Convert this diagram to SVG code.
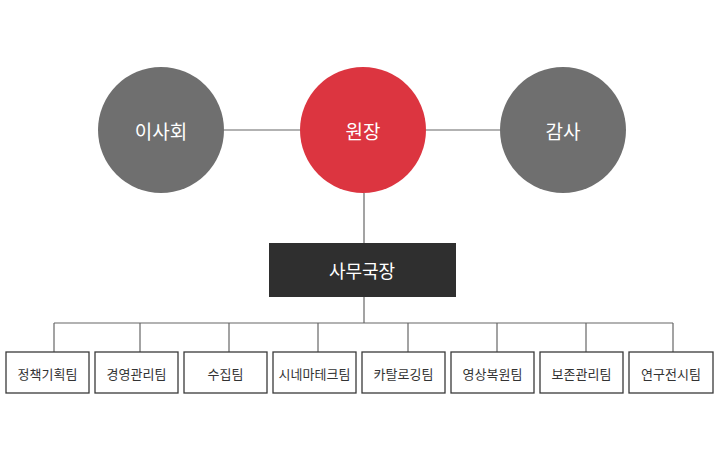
<svg xmlns="http://www.w3.org/2000/svg" width="720" height="462" viewBox="0 0 720 462">
<style>
  .ln{stroke:#666;stroke-width:1.2;fill:none}
  .gc{fill:#6f6f6f}
  .rc{fill:#dc3540}
  .ct{font-family:"Noto Sans CJK KR","Noto Sans",sans-serif;font-size:19px;fill:#fff;text-anchor:middle;dominant-baseline:central}
  .tb{fill:#fff;stroke:#3a3a3a;stroke-width:1.3}
  .tt{font-family:"Noto Sans CJK KR","Noto Sans",sans-serif;font-size:13px;fill:#333;text-anchor:middle;dominant-baseline:central}
</style>
<rect width="720" height="462" fill="#fff"/>
<g id="connectors">
  <line class="ln" x1="224" y1="130" x2="300" y2="130"/>
  <line class="ln" x1="426" y1="130" x2="500" y2="130"/>
  <line class="ln" x1="364" y1="193" x2="364" y2="243"/>
  <line class="ln" x1="364" y1="297" x2="364" y2="323"/>
  <line class="ln" x1="54" y1="323" x2="673" y2="323"/>
  <line class="ln" x1="54" y1="323" x2="54" y2="352"/>
  <line class="ln" x1="140" y1="323" x2="140" y2="352"/>
  <line class="ln" x1="229" y1="323" x2="229" y2="352"/>
  <line class="ln" x1="318" y1="323" x2="318" y2="352"/>
  <line class="ln" x1="408" y1="323" x2="408" y2="352"/>
  <line class="ln" x1="497" y1="323" x2="497" y2="352"/>
  <line class="ln" x1="586" y1="323" x2="586" y2="352"/>
  <line class="ln" x1="673" y1="323" x2="673" y2="352"/>
</g>
<g id="board"><circle class="gc" cx="161" cy="130" r="63"/><text class="ct" x="161" y="130">이사회</text></g>
<g id="director"><circle class="rc" cx="363" cy="130" r="63"/><text class="ct" x="363" y="130">원장</text></g>
<g id="audit"><circle class="gc" cx="563" cy="130" r="63"/><text class="ct" x="563" y="130">감사</text></g>
<g id="secretariat"><rect x="269" y="243" width="187" height="54" fill="#2f2f2f"/><text class="ct" x="362" y="270" style="font-size:18px">사무국장</text></g>
<g id="team1"><rect class="tb" x="6" y="352" width="83" height="41"/><text class="tt" x="47.5" y="373">정책기획팀</text></g>
<g id="team2"><rect class="tb" x="95" y="352" width="83" height="41"/><text class="tt" x="136.5" y="373">경영관리팀</text></g>
<g id="team3"><rect class="tb" x="184" y="352" width="83" height="41"/><text class="tt" x="225.5" y="373">수집팀</text></g>
<g id="team4"><rect class="tb" x="273" y="352" width="83" height="41"/><text class="tt" x="314.5" y="373">시네마테크팀</text></g>
<g id="team5"><rect class="tb" x="362" y="352" width="83" height="41"/><text class="tt" x="403.5" y="373">카탈로깅팀</text></g>
<g id="team6"><rect class="tb" x="451" y="352" width="83" height="41"/><text class="tt" x="492.5" y="373">영상복원팀</text></g>
<g id="team7"><rect class="tb" x="540" y="352" width="83" height="41"/><text class="tt" x="581.5" y="373">보존관리팀</text></g>
<g id="team8"><rect class="tb" x="629" y="352" width="84" height="41"/><text class="tt" x="671" y="373">연구전시팀</text></g>
</svg>
